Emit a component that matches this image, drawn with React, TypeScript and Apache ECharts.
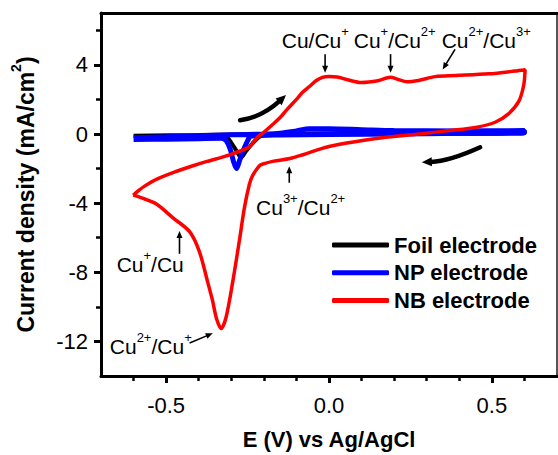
import React, { useEffect, useRef } from "react";
import * as echarts from "echarts";

const FONT = "'Liberation Sans', Arial, Helvetica, sans-serif";

// axis ticks
const xTickValues = [-0.5, 0, 0.5];
const xMinorTickValues = [-0.6, -0.4, -0.3, -0.2, -0.1, 0.1, 0.2, 0.3, 0.4, 0.6];
const yTickValues = [-12, -8, -4, 0, 4];
const yMinorTickValues = [-10, -6, -2, 2, 6];

const seriesNames = ["Foil electrode", "NP electrode", "NB electrode"];
const seriesColors = ["#000000", "#0000ff", "#ff0000"];

// Foil electrode: E (V), j (mA/cm2)
const foilData = [
  [-0.6, -0.1], [-0.4, -0.06], [-0.2, -0.01], [0.0, 0.05], [0.3, 0.08], [0.6, 0.1],
  [0.6, 0.04], [0.2, 0.0], [-0.1, -0.04], [-0.2, -0.08], [-0.214, -0.17], [-0.235, -0.55],
  [-0.255, -1.0], [-0.27, -1.35], [-0.285, -0.95], [-0.3, -0.5], [-0.316, -0.17],
  [-0.4, -0.13], [-0.6, -0.12],
];

// NP electrode
const npData = [
  [-0.6, -0.22], [-0.5, -0.16], [-0.4, -0.1], [-0.3, -0.05], [-0.2, 0.0], [-0.15, 0.05],
  [-0.1, 0.18], [-0.06, 0.3], [0.0, 0.3], [0.1, 0.25], [0.2, 0.2], [0.4, 0.18], [0.6, 0.2],
  [0.6, 0.08], [0.4, 0.04], [0.2, 0.0], [0.0, -0.03], [-0.15, -0.06], [-0.24, -0.12],
  [-0.25, -0.4], [-0.262, -0.9], [-0.274, -1.5], [-0.284, -2.0], [-0.293, -1.6],
  [-0.303, -0.9], [-0.315, -0.4], [-0.33, -0.25], [-0.4, -0.27], [-0.5, -0.3], [-0.6, -0.32],
];

// NB electrode
const nbData = [
  [-0.601, -3.54], [-0.585, -3.28], [-0.565, -3.0], [-0.53, -2.62], [-0.47, -2.17],
  [-0.42, -1.85], [-0.377, -1.6], [-0.33, -1.35], [-0.29, -1.1], [-0.245, -0.75],
  [-0.22, -0.2], [-0.2, 0.1], [-0.173, 0.55], [-0.15, 0.95], [-0.132, 1.35], [-0.1, 2.0],
  [-0.082, 2.4], [-0.06, 2.75], [-0.04, 3.08], [-0.02, 3.28], [0.0, 3.33], [0.025, 3.3],
  [0.06, 3.12], [0.1, 2.98], [0.15, 3.08], [0.189, 3.28], [0.21, 3.17], [0.24, 3.02],
  [0.275, 3.1], [0.326, 3.32], [0.39, 3.38], [0.49, 3.48], [0.57, 3.64], [0.602, 3.72],
  [0.598, 2.85], [0.583, 1.9], [0.55, 1.15], [0.51, 0.68], [0.45, 0.38], [0.37, 0.2],
  [0.285, 0.02], [0.18, -0.18], [0.08, -0.45], [0.0, -0.72], [-0.04, -0.95], [-0.08, -1.2],
  [-0.12, -1.42], [-0.17, -1.57], [-0.205, -1.75], [-0.214, -1.85], [-0.235, -2.42],
  [-0.245, -2.95], [-0.26, -4.3], [-0.275, -6.15], [-0.296, -8.6], [-0.316, -10.6],
  [-0.331, -11.25], [-0.345, -10.7], [-0.358, -9.6], [-0.372, -8.6], [-0.398, -6.8],
  [-0.428, -5.65], [-0.479, -4.85], [-0.53, -4.05], [-0.575, -3.7], [-0.601, -3.54],
];

// annotations (data coordinates)
const annotationTexts = [
  "{n|Cu/Cu}{s|+}",
  "{n|Cu}{s|+}{n|/Cu}{s|2+}",
  "{n|Cu}{s|2+}{n|/Cu}{s|3+}",
  "{n|Cu}{s|3+}{n|/Cu}{s|2+}",
  "{n|Cu}{s|+}{n|/Cu}",
  "{n|Cu}{s|2+}{n|/Cu}{s|+}",
];
const annotationAnchors = [
  [-0.145, 5.57], [0.076, 5.57], [0.346, 5.57], [-0.224, -4.11], [-0.652, -7.38], [-0.673, -12.16],
];
const arrowTails = [
  [-0.012, 4.62], [0.189, 4.62], [0.387, 4.9], [-0.122, -2.82], [-0.459, -6.93], [-0.428, -12.09],
];
const arrowTips = [
  [-0.012, 3.55], [0.189, 3.55], [0.349, 3.73], [-0.122, -1.86], [-0.459, -5.61], [-0.357, -11.53],
];
// scan direction arrows: start, middle, end
const scanArrows = [
  [[-0.273, 0.8], [-0.204, 1.25], [-0.132, 2.25]],
  [[0.464, -0.77], [0.372, -1.39], [0.285, -1.63]],
];

const richStyles = {
  n: { fontSize: 21, fontFamily: FONT, color: "#000", lineHeight: 26, verticalAlign: "bottom" },
  s: { fontSize: 13, fontFamily: FONT, color: "#000", lineHeight: 13, verticalAlign: "top" },
};

function arrowHead(tip: number[], from: number[], len: number, hw: number) {
  const dx = tip[0] - from[0];
  const dy = tip[1] - from[1];
  const d = Math.hypot(dx, dy) || 1;
  const ux = dx / d;
  const uy = dy / d;
  const bx = tip[0] - ux * len;
  const by = tip[1] - uy * len;
  return {
    poly: {
      type: "polygon",
      silent: true,
      shape: { points: [[tip[0], tip[1]], [bx - uy * hw, by + ux * hw], [bx + uy * hw, by - ux * hw]] },
      style: { fill: "#000" },
    },
    base: [bx + ux * 1, by + uy * 1],
  };
}

export default function App() {
  const ref = useRef<HTMLDivElement>(null);
  useEffect(() => {
    if (!ref.current) return;
    const chart = echarts.init(ref.current, null, { renderer: "svg" });
    const axisCommon = { color: "#000", fontFamily: FONT };
    const option: any = {
      animation: false,
      backgroundColor: "#fff",
      grid: { left: 101, top: 13, right: 1, bottom: 69, containLabel: false },
      legend: {
        data: seriesNames,
        orient: "vertical",
        left: 327,
        top: 229,
        icon: "roundRect",
        itemWidth: 57,
        itemHeight: 5,
        itemGap: 5.7,
        textStyle: { fontSize: 22, fontWeight: "bold", color: "#000", fontFamily: FONT, lineHeight: 22 },
      },
      xAxis: [
        {
          type: "value",
          min: -0.7,
          max: 0.7,
          position: "bottom",
          name: "E (V) vs Ag/AgCl",
          nameLocation: "middle",
          nameGap: 52,
          nameTextStyle: { fontSize: 22, fontWeight: "bold", ...axisCommon },
          axisLine: { show: true, onZero: false, lineStyle: { color: "#000", width: 3 } },
          axisTick: { show: true, customValues: xTickValues, length: 7, lineStyle: { color: "#000", width: 3 } },
          axisLabel: {
            customValues: xTickValues,
            formatter: (v: number) => v.toFixed(1),
            fontSize: 22,
            margin: 18,
            ...axisCommon,
          },
          splitLine: { show: false },
        },
        {
          type: "value",
          min: -0.7,
          max: 0.7,
          position: "bottom",
          axisLine: { show: false, onZero: false },
          axisTick: { show: true, customValues: xMinorTickValues, length: 5, lineStyle: { color: "#000", width: 2.5 } },
          axisLabel: { show: false },
          splitLine: { show: false },
        },
        {
          type: "value",
          min: -0.7,
          max: 0.7,
          position: "top",
          axisLine: { show: true, onZero: false, lineStyle: { color: "#000", width: 3 } },
          axisTick: { show: false },
          axisLabel: { show: false },
          splitLine: { show: false },
        },
      ],
      yAxis: [
        {
          type: "value",
          min: -14,
          max: 7,
          position: "left",
          name: "{a|Current density (mA/cm}{s|2}{a|)}",
          nameLocation: "middle",
          nameGap: 64,
          nameTextStyle: {
            fontSize: 23,
            fontWeight: "bold",
            ...axisCommon,
            rich: {
              a: { fontSize: 23, fontWeight: "bold", fontFamily: FONT, color: "#000", lineHeight: 28, verticalAlign: "bottom" },
              s: { fontSize: 14, fontWeight: "bold", fontFamily: FONT, color: "#000", lineHeight: 14, verticalAlign: "top" },
            },
          },
          axisLine: { show: true, onZero: false, lineStyle: { color: "#000", width: 3 } },
          axisTick: { show: true, customValues: yTickValues, length: 7, lineStyle: { color: "#000", width: 3 } },
          axisLabel: { customValues: yTickValues, fontSize: 22, margin: 13, ...axisCommon },
          splitLine: { show: false },
        },
        {
          type: "value",
          min: -14,
          max: 7,
          position: "left",
          axisLine: { show: false, onZero: false },
          axisTick: { show: true, customValues: yMinorTickValues, length: 5, lineStyle: { color: "#000", width: 2.5 } },
          axisLabel: { show: false },
          splitLine: { show: false },
        },
        {
          type: "value",
          min: -14,
          max: 7,
          position: "right",
          axisLine: { show: true, onZero: false, lineStyle: { color: "#555", width: 2 } },
          axisTick: { show: false },
          axisLabel: { show: false },
          splitLine: { show: false },
        },
      ],
      series: [
        {
          name: seriesNames[0],
          type: "line",
          data: foilData,
          symbol: "none",
          showSymbol: false,
          smooth: 0.3,
          lineStyle: { color: seriesColors[0], width: 4 },
          itemStyle: { color: seriesColors[0] },
        },
        {
          name: seriesNames[1],
          type: "line",
          data: npData,
          symbol: "none",
          showSymbol: false,
          smooth: 0.3,
          lineStyle: { color: seriesColors[1], width: 5 },
          itemStyle: { color: seriesColors[1] },
        },
        {
          name: seriesNames[2],
          type: "line",
          data: nbData,
          symbol: "none",
          showSymbol: false,
          smooth: 0.3,
          lineStyle: { color: seriesColors[2], width: 3.5 },
          itemStyle: { color: seriesColors[2] },
        },
      ],
    };
    chart.setOption(option);

    const px = (p: number[]) => chart.convertToPixel({ xAxisIndex: 0, yAxisIndex: 0 }, p) as number[];
    const graphics: any[] = [];
    annotationTexts.forEach((t, i) => {
      const p = px(annotationAnchors[i]);
      graphics.push({
        type: "text",
        x: p[0],
        y: p[1],
        silent: true,
        style: {
          text: t,
          rich: richStyles,
          align: "left",
          verticalAlign: "middle",
          textAlign: "left",
          textVerticalAlign: "middle",
          fill: "#000",
        },
      });
    });
    arrowTails.forEach((tail, i) => {
      const a = px(tail);
      const b = px(arrowTips[i]);
      const h = arrowHead(b, a, 7, 3);
      graphics.push({
        type: "line",
        silent: true,
        shape: { x1: a[0], y1: a[1], x2: h.base[0], y2: h.base[1] },
        style: { stroke: "#000", lineWidth: 1.6 },
      });
      graphics.push(h.poly);
    });
    scanArrows.forEach((arr) => {
      const s = px(arr[0]);
      const m = px(arr[1]);
      const e = px(arr[2]);
      const c = [2 * m[0] - (s[0] + e[0]) / 2, 2 * m[1] - (s[1] + e[1]) / 2];
      const h = arrowHead(e, c, 10, 4.5);
      graphics.push({
        type: "bezierCurve",
        silent: true,
        shape: { x1: s[0], y1: s[1], x2: h.base[0], y2: h.base[1], cpx1: c[0], cpy1: c[1] },
        style: { stroke: "#000", lineWidth: 4.5, fill: "none", lineCap: "round" },
      });
      graphics.push(h.poly);
    });
    chart.setOption({ graphic: graphics });

    return () => chart.dispose();
  }, []);
  return (
    <div
      ref={ref}
      style={{ position: "absolute", left: 0, top: 0, width: 558, height: 455, background: "#fff" }}
    />
  );
}
